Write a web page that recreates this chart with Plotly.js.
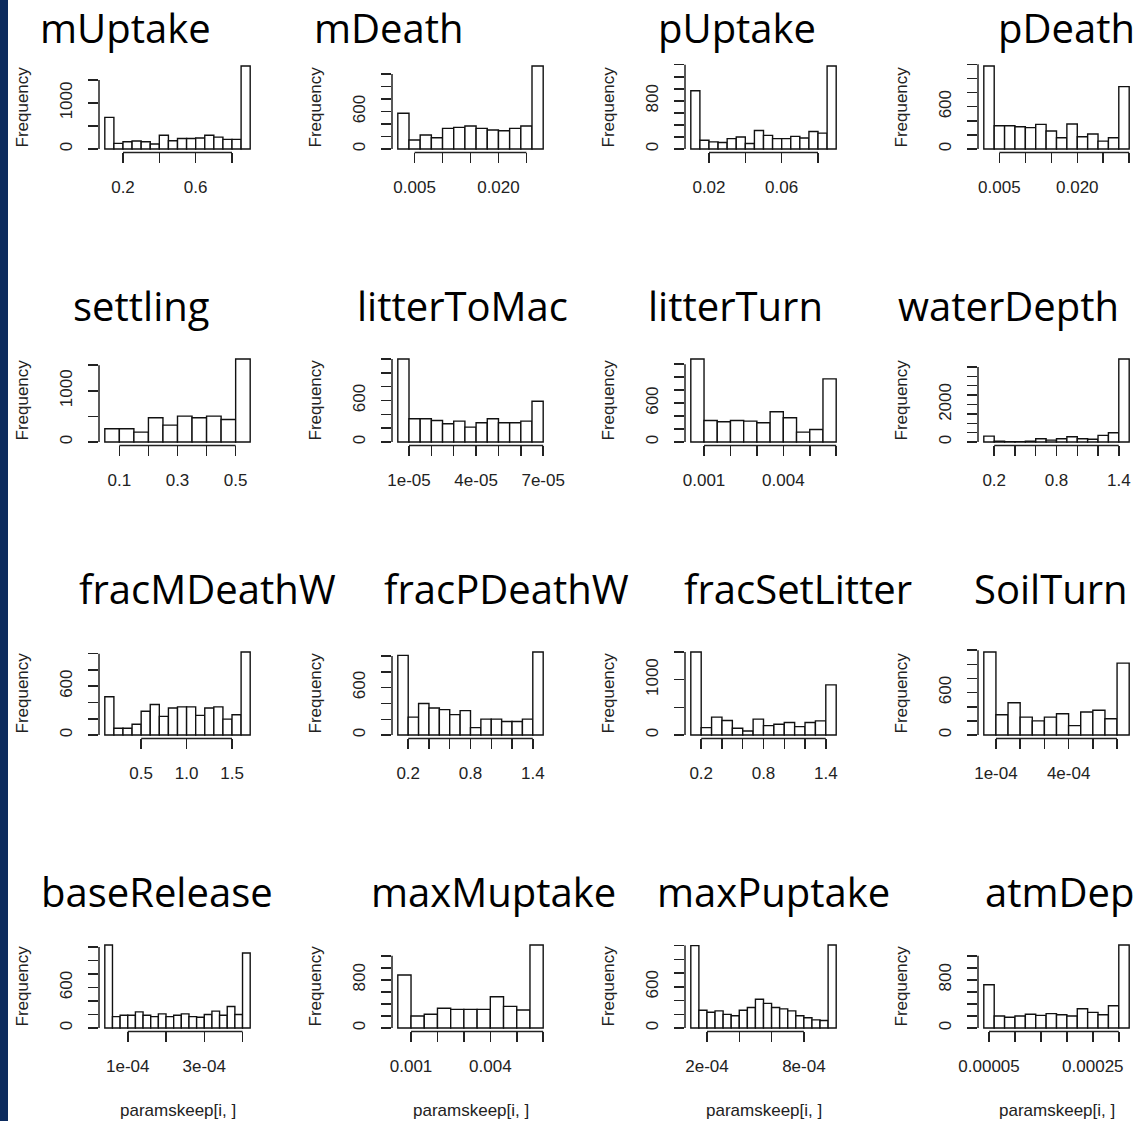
<!DOCTYPE html>
<html><head><meta charset="utf-8">
<script src="https://cdn.plot.ly/plotly-3.0.1.min.js"></script>
<style>html,body{margin:0;padding:0;background:#fff;overflow:hidden}</style>
</head><body><div id="chart" style="width:1144px;height:1121px"></div>
<script>
// ---------------- data ----------------
const panelTitles = ["mUptake","mDeath","pUptake","pDeath",
  "settling","litterToMac","litterTurn","waterDepth",
  "fracMDeathW","fracPDeathW","fracSetLitter","SoilTurn",
  "baseRelease","maxMuptake","maxPuptake","atmDep"];

const countsMUptake     = [688,123,160,175,160,110,300,180,230,230,240,300,260,210,210,1804];
const countsMDeath      = [571,144,224,181,331,347,368,331,304,293,331,368,1328];
const countsPUptake     = [968,146,119,108,173,200,92,308,227,173,173,211,184,292,265,1380];
const countsPDeath      = [1177,331,331,317,303,350,255,161,355,175,213,113,161,884];
const countsSettling    = [260,260,195,474,331,506,474,506,442,1623];
const countsLitterToMac = [1200,336,336,312,264,302,216,278,336,278,278,302,590];
const countsLitterTurn  = [1282,333,313,333,323,297,467,374,154,195,974];
const countsWaterDepth  = [319,53,18,18,53,177,106,177,283,177,150,354,496,4425];
const countsFracMDeathW = [471,83,83,133,292,375,229,333,346,346,242,333,346,196,250,1021];
const countsFracPDeathW = [1008,227,399,343,322,258,309,94,202,202,172,172,202,1051];
const countsFracSetLitter = [1500,135,324,263,122,73,288,171,196,226,153,226,257,906];
const countsSoilTurn    = [1175,288,456,254,201,254,302,134,326,350,230,1017];
const countsBaseRelease = [1230,170,190,190,240,190,170,210,170,190,210,170,160,200,250,190,320,200,1110];
const countsMaxMuptake  = [880,200,230,330,310,310,310,520,360,300,1380];
const countsMaxPuptake  = [1200,260,230,250,200,180,260,300,420,360,300,280,250,180,150,120,110,1210];
const countsAtmDep      = [720,200,180,200,230,210,240,220,200,320,260,220,370,1380];

const binRanges = [[0.1,0.9],[0.002,0.028],[0.01,0.09],[0.002,0.030],
  [0.05,0.55],[0.000005,0.00007],[0.0005,0.006],[0.1,1.5],
  [0.1,1.7],[0.1,1.5],[0.1,1.5],[0.00005,0.00065],
  [0.00004,0.00042],[0.0005,0.006],[0.0001,0.001],[0.00004,0.00032]];

const xTickVals = [[0.2,0.4,0.6,0.8],[0.005,0.010,0.015,0.020,0.025],[0.02,0.04,0.06,0.08],[0.005,0.010,0.015,0.020,0.025,0.030],
  [0.1,0.2,0.3,0.4,0.5],[0.00001,0.00002,0.00003,0.00004,0.00005,0.00006,0.00007],[0.001,0.002,0.003,0.004,0.005,0.006],[0.2,0.4,0.6,0.8,1.0,1.2,1.4],
  [0.5,1.0,1.5],[0.2,0.4,0.6,0.8,1.0,1.2,1.4],[0.2,0.4,0.6,0.8,1.0,1.2,1.4],[0.0001,0.0002,0.0003,0.0004,0.0005,0.0006],
  [0.0001,0.0002,0.0003,0.0004],[0.001,0.002,0.003,0.004,0.005,0.006],[0.0002,0.0004,0.0006,0.0008],[0.00005,0.00010,0.00015,0.00020,0.00025,0.00030]];
const xTickText = [["0.2","","0.6",""],["0.005","","","0.020",""],["0.02","","0.06",""],["0.005","","","0.020","",""],
  ["0.1","","0.3","","0.5"],["1e-05","","","4e-05","","","7e-05"],["0.001","","","0.004","",""],["0.2","","","0.8","","","1.4"],
  ["0.5","1.0","1.5"],["0.2","","","0.8","","","1.4"],["0.2","","","0.8","","","1.4"],["1e-04","","","4e-04","",""],
  ["1e-04","","3e-04",""],["0.001","","","0.004","",""],["2e-04","","","8e-04"],["0.00005","","","","0.00025",""]];

const yTickVals = [[0,500,1000,1500],[0,200,400,600,800,1000,1200],[0,200,400,600,800,1000,1200,1400],[0,200,400,600,800,1000,1200],
  [0,500,1000,1500],[0,200,400,600,800,1000,1200],[0,200,400,600,800,1000,1200],[0,500,1000,1500,2000,2500,3000,3500,4000],
  [0,200,400,600,800,1000],[0,200,400,600,800,1000],[0,500,1000,1500],[0,200,400,600,800,1000,1200],
  [0,200,400,600,800,1000,1200],[0,200,400,600,800,1000,1200],[0,200,400,600,800,1000,1200],[0,200,400,600,800,1000,1200]];
const yTickText = [["0","","1000",""],["0","","","600","","",""],["0","","","","800","","",""],["0","","","600","","",""],
  ["0","","1000",""],["0","","","600","","",""],["0","","","600","","",""],["0","","","","2000","","","",""],
  ["0","","","600","",""],["0","","","600","",""],["0","","1000",""],["0","","","600","","",""],
  ["0","","","600","","",""],["0","","","","800","",""],["0","","","600","","",""],["0","","","","800","",""]];

const yAxisLabel = "Frequency";
const xAxisLabel = "paramskeep[i, ]";

const allCounts = [countsMUptake,countsMDeath,countsPUptake,countsPDeath,
  countsSettling,countsLitterToMac,countsLitterTurn,countsWaterDepth,
  countsFracMDeathW,countsFracPDeathW,countsFracSetLitter,countsSoilTurn,
  countsBaseRelease,countsMaxMuptake,countsMaxPuptake,countsAtmDep];

// ---------------- layout geometry (pixels) ----------------
const W = 1144, H = 1121;
const colLeft = [99, 392, 685, 978], plotW = 157;
const rowBase = [149, 442, 735, 1028], barSpan = 83, pad = 3.4;
const titleX = [[125,389,737,1066],[141,462,735,1008],[207,506,798,1051],[157,493,773,1059]];
const titleY = [28, 305, 588, 892];

const axisFont = {family: "Liberation Sans, Arial, sans-serif", size: 17, color: "#222"};
const data = [], shapes = [], annotations = [];
const layout = {
  width: W, height: H, margin: {l:0, r:0, t:0, b:0},
  paper_bgcolor: "#ffffff", plot_bgcolor: "rgba(0,0,0,0)",
  showlegend: false, bargap: 0
};

for (let i = 0; i < 16; i++) {
  const r = Math.floor(i / 4), c = i % 4;
  const xa = i === 0 ? "x" : "x" + (i + 1);
  const ya = i === 0 ? "y" : "y" + (i + 1);
  const counts = allCounts[i];
  const [lo, hi] = binRanges[i];
  const n = counts.length, w = (hi - lo) / n;
  const centers = counts.map((_, k) => lo + (k + 0.5) * w);
  const ymax = Math.max(...counts);
  data.push({
    type: "bar", x: centers, y: counts, width: w, xaxis: xa, yaxis: ya,
    marker: {color: "#ffffff", line: {color: "#111", width: 1.4}},
    hoverinfo: "x+y"
  });
  const left = colLeft[c], bottom = rowBase[r] + pad, top = rowBase[r] - barSpan - pad;
  layout[xa === "x" ? "xaxis" : "xaxis" + (i + 1)] = {
    domain: [left / W, (left + plotW) / W], anchor: ya,
    range: [lo - 0.04 * (hi - lo), hi + 0.04 * (hi - lo)],
    tickmode: "array", tickvals: xTickVals[i], ticktext: xTickText[i],
    ticks: "outside", ticklen: 10, tickwidth: 1.5, tickcolor: "#222",
    showline: false, showgrid: false, zeroline: false,
    tickfont: axisFont, ticklabelstandoff: 9, fixedrange: true
  };
  layout[ya === "y" ? "yaxis" : "yaxis" + (i + 1)] = {
    domain: [1 - bottom / H, 1 - top / H], anchor: xa,
    range: [-0.04 * ymax, 1.04 * ymax],
    tickmode: "array", tickvals: yTickVals[i], ticktext: yTickText[i],
    tickangle: -90,
    ticks: "outside", ticklen: 10, tickwidth: 1.5, tickcolor: "#222",
    showline: false, showgrid: false, zeroline: false,
    tickfont: axisFont, ticklabelstandoff: 9, fixedrange: true
  };
  const xt = xTickVals[i], yt = yTickVals[i];
  shapes.push({type: "line", xref: xa, yref: ya + " domain", x0: xt[0], x1: xt[xt.length - 1], y0: 0, y1: 0,
    line: {color: "#222", width: 1.5}});
  shapes.push({type: "line", xref: xa + " domain", yref: ya, x0: 0, x1: 0, y0: yt[0], y1: yt[yt.length - 1],
    line: {color: "#222", width: 1.5}});
  annotations.push({text: panelTitles[i], xref: "paper", yref: "paper",
    x: titleX[r][c] / W, y: 1 - titleY[r] / H, xanchor: "center", yanchor: "middle",
    showarrow: false, font: {family: "Open Sans, sans-serif", size: 40, color: "#000"}});
  annotations.push({text: yAxisLabel, xref: "paper", yref: "paper",
    x: (left - 77) / W, y: 1 - ((top + bottom) / 2) / H, xanchor: "center", yanchor: "middle",
    textangle: -90, showarrow: false, font: axisFont});
  if (r === 3) {
    annotations.push({text: xAxisLabel, xref: "paper", yref: "paper",
      x: (left + plotW / 2) / W, y: 1 - 1110 / H, xanchor: "center", yanchor: "middle",
      showarrow: false, font: axisFont});
  }
}
shapes.push({type: "rect", xref: "paper", yref: "paper", x0: 0, x1: 8 / W, y0: 0, y1: 1,
  fillcolor: "#0c2b5e", line: {width: 0}});
layout.shapes = shapes;
layout.annotations = annotations;

Plotly.newPlot("chart", data, layout, {staticPlot: true, displayModeBar: false});
</script></body></html>
